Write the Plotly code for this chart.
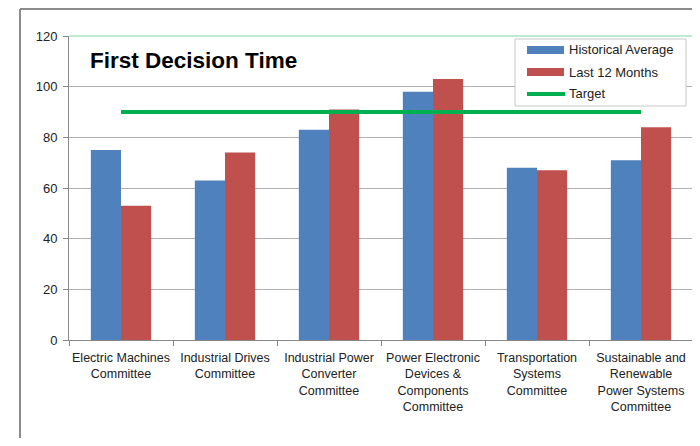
import plotly.graph_objects as go

categories = [
    "Electric Machines<br>Committee",
    "Industrial Drives<br>Committee",
    "Industrial Power<br>Converter<br>Committee",
    "Power Electronic<br>Devices &<br>Components<br>Committee",
    "Transportation<br>Systems<br>Committee",
    "Sustainable and<br>Renewable<br>Power Systems<br>Committee",
]
historical_avg = [75, 63, 83, 98, 68, 71]
last_12_months = [53, 74, 91, 103, 67, 84]
target = [90, 90, 90, 90, 90, 90]
series_names = ["Historical Average", "Last 12 Months", "Target"]
series_colors = ["#4f81bd", "#c0504d", "#00b050"]

# page body has an 8px margin; positions below are screen pixels
OFF = 8
W, H = 700 - OFF, 446 - 2 * OFF
PL, PR, PT, PB = 69, 693, 36, 340  # plot area on screen
L = PL - OFF
T = PT - OFF
R = W - (PR - OFF)
B = H - (PB - OFF)
pw, ph = PR - PL, PB - PT

def px(x):
    return (x - PL) / pw

def py(y):
    return (PB - y) / ph

fig = go.Figure()
fig.add_trace(go.Bar(x=categories, y=historical_avg, name=series_names[0],
                     marker=dict(color=series_colors[0], line=dict(width=0))))
fig.add_trace(go.Bar(x=categories, y=last_12_months, name=series_names[1],
                     marker=dict(color=series_colors[1], line=dict(width=0))))
fig.add_trace(go.Scatter(x=categories, y=target, name=series_names[2], mode="lines",
                         line=dict(color=series_colors[2], width=4)))

gray = "#8c8c8c"
shapes = [
    dict(type="line", xref="paper", yref="paper", x0=0, x1=1, y0=1, y1=1,
         line=dict(color="#7fd6a0", width=1)),
    dict(type="line", xref="paper", yref="paper", x0=1, x1=1, y0=0, y1=1,
         line=dict(color="#7fd6a0", width=1)),
    # outer chart frame
    dict(type="line", xref="paper", yref="paper", x0=px(20), x1=px(20),
         y0=py(450), y1=py(9), line=dict(color=gray, width=2)),
    dict(type="line", xref="paper", yref="paper", x0=px(20), x1=px(697),
         y0=py(9), y1=py(9), line=dict(color=gray, width=2)),
    dict(type="line", xref="paper", yref="paper", x0=px(696), x1=px(696),
         y0=py(450), y1=py(9), line=dict(color="#7a7a7a", width=3)),
    # legend box
    dict(type="rect", xref="paper", yref="paper", x0=px(515), x1=px(686),
         y0=py(106), y1=py(39), line=dict(color="#c8c8c8", width=1),
         fillcolor="white"),
    dict(type="rect", xref="paper", yref="paper", x0=px(527), x1=px(564),
         y0=py(54), y1=py(46), line=dict(width=0), fillcolor=series_colors[0]),
    dict(type="rect", xref="paper", yref="paper", x0=px(527), x1=px(564),
         y0=py(76), y1=py(68), line=dict(width=0), fillcolor=series_colors[1]),
    dict(type="line", xref="paper", yref="paper", x0=px(527), x1=px(565),
         y0=py(94), y1=py(94), line=dict(color=series_colors[2], width=4)),
]

annotations = [
    dict(text="<b>First Decision Time</b>", xref="paper", yref="paper",
         x=px(88), y=py(60), xanchor="left", yanchor="middle", showarrow=False,
         font=dict(size=22.5, color="black")),
]
for name, yy in zip(series_names, [50, 72, 93]):
    annotations.append(dict(text=name, xref="paper", yref="paper", x=px(567),
                            y=py(yy), xanchor="left", yanchor="middle",
                            showarrow=False, font=dict(size=13, color="#222")))

fig.update_layout(
    width=W, height=H,
    margin=dict(l=L, r=R, t=T, b=B, autoexpand=False),
    paper_bgcolor="white", plot_bgcolor="white",
    font=dict(family="Liberation Sans, Arial, sans-serif", size=13, color="#222"),
    barmode="group", bargap=0.42, bargroupgap=0,
    showlegend=False,
    xaxis=dict(showgrid=False, showline=True, linecolor="#888", linewidth=1,
               ticks="outside", tickson="boundaries", ticklen=5, tickcolor="#888",
               tickangle=0, tickfont=dict(size=12.5, color="#222"), fixedrange=True,
               ticklabelstandoff=6, automargin=False),
    yaxis=dict(range=[0, 120], dtick=20, showgrid=True, gridcolor="#b0b0b0",
               gridwidth=1, showline=True, linecolor="#888", linewidth=1,
               ticks="outside", ticklen=5, tickcolor="#888", zeroline=False,
               tickfont=dict(size=13, color="#222"), fixedrange=True,
               ticklabelstandoff=3, automargin=False),
    shapes=shapes,
    annotations=annotations,
)

fig.write_html("out.html")
